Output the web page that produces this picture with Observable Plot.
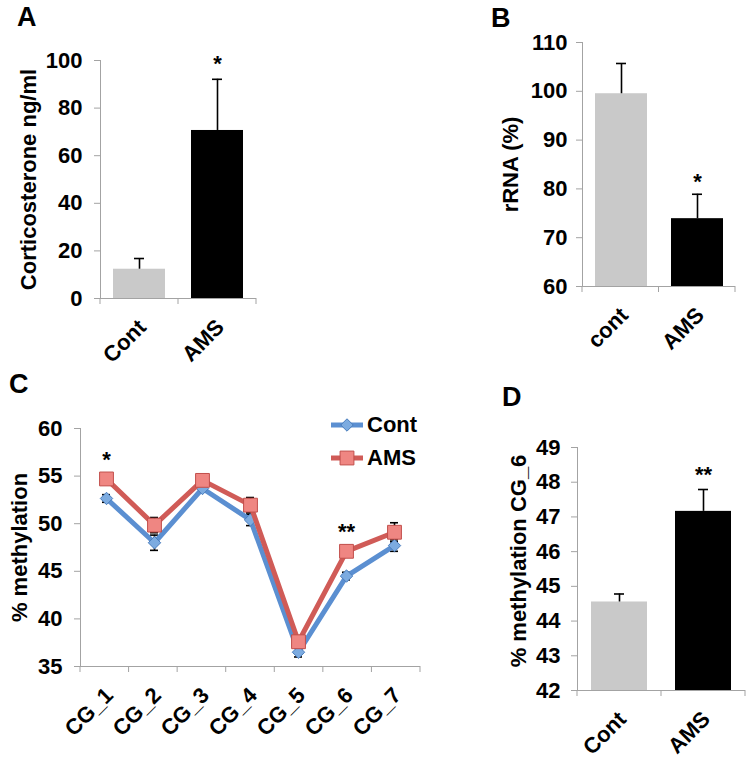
<!DOCTYPE html>
<html><head><meta charset="utf-8">
<script src="https://cdn.jsdelivr.net/npm/d3@7"></script>
<script src="https://cdn.jsdelivr.net/npm/@observablehq/plot@0.6"></script>
<style>
body{margin:0;background:#fff;font-family:'Liberation Sans',Arial,Helvetica,sans-serif;}
#fig{position:relative;width:753px;height:760px;overflow:hidden;background:#fff;}
.panel{position:absolute;}
.plabel{position:absolute;font-weight:bold;font-size:27px;line-height:1;}
.legend{position:absolute;display:flex;align-items:center;height:24px;font-weight:bold;font-size:22px;line-height:24px;}
.legend svg{margin-right:3px;}
</style></head><body>
<div id="fig">
  <div class="panel" id="pA" style="left:0;top:0"></div>
  <div class="panel" id="pB" style="left:420px;top:0"></div>
  <div class="panel" id="pC" style="left:0;top:380px"></div>
  <div class="panel" id="pD" style="left:420px;top:380px"></div>
  <div class="plabel" style="left:17px;top:4px">A</div>
  <div class="plabel" style="left:491px;top:5px">B</div>
  <div class="plabel" style="left:9px;top:371px">C</div>
  <div class="plabel" style="left:502px;top:384px">D</div>
  <div id="legend"></div>
</div>
<script>
// ---------- data ----------
const groupsA = ["Cont", "AMS"];
const corticoMean = [12.3, 70.6];
const corticoErr = [4.5, 21.5];
const sigA = ["", "*"];
const ticksA = [0, 20, 40, 60, 80, 100];

const groupsB = ["cont", "AMS"];
const rrnaMean = [99.5, 73.9];
const rrnaErr = [6.2, 5.0];
const sigB = ["", "*"];
const ticksB = [60, 70, 80, 90, 100, 110];

const cgSites = ["CG_1", "CG_2", "CG_3", "CG_4", "CG_5", "CG_6", "CG_7"];
const contMeth = [52.65, 48.0, 53.7, 50.4, 36.5, 44.5, 47.7];
const amsMeth = [54.7, 49.85, 54.55, 51.95, 37.6, 47.1, 49.1];
const contMethErr = [0.4, 0.8, 0.3, 0.6, 0.5, 0.4, 0.6];
const amsMethErr = [0.5, 0.8, 0.4, 0.8, 0.5, 0.6, 1.0];
const sigC = ["*", "", "", "", "", "**", ""];
const ticksC = [35, 40, 45, 50, 55, 60];

const groupsD = ["Cont", "AMS"];
const cg6Mean = [44.55, 47.16];
const cg6Err = [0.23, 0.63];
const sigD = ["", "**"];
const ticksD = [42, 43, 44, 45, 46, 47, 48, 49];

const barColors = ["#c9c9c9", "#000000"];
const seriesNames = ["Cont", "AMS"];
const seriesLine = ["#5b8fd1", "#d05b57"];
const seriesFill = ["#7cabe0", "#ef8682"];
const seriesEdge = ["#4a7dbd", "#c24f4b"];
const seriesSymbol = ["diamond2", "square"];
const seriesR = [5.6, 7.8];

// ---------- helpers ----------
const axisGray = "#a3a3a3";
const FS = 22;
const baseStyle = {fontFamily: "'Liberation Sans', Arial, Helvetica, sans-serif", fontSize: "22px", fontWeight: "bold", color: "black", background: "transparent", overflow: "visible"};

function boundaryTicks(n, len, color) {
  return (index, scales, values, dims) => {
    const {width, height, marginLeft, marginRight, marginBottom} = dims;
    const step = (width - marginLeft - marginRight) / n;
    const g = d3.create("svg:g").attr("stroke", color).attr("stroke-width", 1);
    for (let k = 0; k <= n; ++k) {
      const x = marginLeft + k * step;
      g.append("line").attr("x1", x).attr("x2", x)
        .attr("y1", height - marginBottom).attr("y2", height - marginBottom + len);
    }
    return g.node();
  };
}

function yTitle(title, dx, dy) {
  return Plot.text([title], {frameAnchor: "left", textAnchor: "middle", rotate: -90, dx, dy, fontSize: FS});
}

function xLabels() {
  return Plot.axisX({tickSize: 0, tickRotate: -45, tickPadding: 16, dx: 3, dy: 9, fill: "black", label: null, fontSize: FS});
}

function barPanel(o) {
  const rows = o.cats.map((c, i) => ({cat: c, mean: o.means[i], err: o.errs[i], sig: o.sig[i], color: barColors[i]}));
  return Plot.plot({
    width: o.width, height: o.height,
    marginLeft: o.ml, marginRight: o.mr, marginTop: o.mt, marginBottom: o.mb,
    style: baseStyle,
    x: {domain: o.cats, padding: 0},
    y: {domain: o.domain},
    color: {type: "identity"},
    marks: [
      Plot.frame({anchor: "left", stroke: axisGray}),
      Plot.ruleY([o.domain[0]], {stroke: axisGray}),
      boundaryTicks(o.cats.length, 6, axisGray),
      Plot.barY(rows, {x: "cat", y1: () => o.domain[0], y2: "mean", fill: "color", insetLeft: o.inset, insetRight: o.inset}),
      Plot.ruleX(rows, {x: "cat", y1: "mean", y2: d => d.mean + d.err, stroke: "black", strokeWidth: 1.6}),
      Plot.tickY(rows, {x: "cat", y: d => d.mean + d.err, stroke: "black", strokeWidth: 1.6, insetLeft: o.capInset, insetRight: o.capInset}),
      Plot.text(rows, {x: "cat", y: d => d.mean + d.err, text: "sig", dy: o.starDy, fontSize: FS}),
      Plot.axisY({ticks: o.ticks, tickFormat: d => String(d), tickSize: 6, tickPadding: o.tp, stroke: axisGray, fill: "black", label: null, fontSize: FS}),
      xLabels(),
      yTitle(o.title, o.titleDx, o.titleDy)
    ]
  });
}

// ---------- panel A ----------
document.getElementById("pA").append(barPanel({
  cats: groupsA, means: corticoMean, errs: corticoErr, sig: sigA, domain: [0, 100], ticks: ticksA,
  title: "Corticosterone ng/ml", titleDx: -72, titleDy: 0,
  width: 270, height: 380, ml: 100, mr: 14, mt: 60, mb: 82,
  inset: 13, capInset: 34, starDy: -15, tp: 12
}));

// ---------- panel B ----------
document.getElementById("pB").append(barPanel({
  cats: groupsB, means: rrnaMean, errs: rrnaErr, sig: sigB, domain: [60, 110], ticks: ticksB,
  title: "rRNA (%)", titleDx: -72, titleDy: 0,
  width: 333, height: 380, ml: 162, mr: 18, mt: 42, mb: 94,
  inset: 12, capInset: 33, starDy: -12, tp: 9
}));

// ---------- panel D ----------
document.getElementById("pD").append(barPanel({
  cats: groupsD, means: cg6Mean, errs: cg6Err, sig: sigD, domain: [42, 49], ticks: ticksD,
  title: "% methylation CG_6", titleDx: -59, titleDy: -8,
  width: 333, height: 380, ml: 157, mr: 8, mt: 67, mb: 70,
  inset: 14, capInset: 37, starDy: -15, tp: 11
}));

// ---------- panel C ----------
const methRows = [];
[contMeth, amsMeth].forEach((vals, s) => {
  const errs = s === 0 ? contMethErr : amsMethErr;
  vals.forEach((v, i) => methRows.push({site: cgSites[i], series: seriesNames[s], s, value: v, err: errs[i]}));
});
const sigRows = cgSites.map((c, i) => ({site: c, sig: sigC[i], top: amsMeth[i] + amsMethErr[i]}));
const yDomainC = [35, 60];
const seriesMarks = [];
[0, 1].forEach(s => {
  const rows = methRows.filter(d => d.s === s);
  seriesMarks.push(
    Plot.ruleX(rows, {x: "site", y1: d => d.value - d.err, y2: d => d.value + d.err, stroke: "black", strokeWidth: 1.6}),
    Plot.tickY(rows, {x: "site", y: d => d.value + d.err, stroke: "black", strokeWidth: 1.6, insetLeft: 20, insetRight: 20}),
    Plot.tickY(rows, {x: "site", y: d => d.value - d.err, stroke: "black", strokeWidth: 1.6, insetLeft: 20, insetRight: 20})
  );
});
[0, 1].forEach(s => {
  const rows = methRows.filter(d => d.s === s);
  seriesMarks.push(
    Plot.line(rows, {x: "site", y: "value", stroke: seriesLine[s], strokeWidth: 5, strokeLinejoin: "miter"}),
    Plot.dot(rows, {x: "site", y: "value", symbol: seriesSymbol[s], r: seriesR[s], fill: seriesFill[s], stroke: seriesEdge[s], strokeWidth: 1})
  );
});
document.getElementById("pC").append(Plot.plot({
  width: 425, height: 380, marginLeft: 80, marginRight: 5, marginTop: 48, marginBottom: 94,
  style: baseStyle,
  x: {domain: cgSites, padding: 0},
  y: {domain: yDomainC},
  marks: [
    Plot.frame({anchor: "left", stroke: axisGray}),
    Plot.ruleY([yDomainC[0]], {stroke: axisGray}),
    boundaryTicks(cgSites.length, 6, axisGray),
    Plot.axisY({ticks: ticksC, tickFormat: d => String(d), tickSize: 6, tickPadding: 12, stroke: axisGray, fill: "black", label: null, fontSize: FS}),
    xLabels(),
    ...seriesMarks,
    Plot.text(sigRows, {x: "site", y: "top", text: "sig", dy: -14, fontSize: FS}),
    yTitle("% methylation", -61, 0)
  ]
}));

// ---------- legend for C ----------
const legend = d3.select("#legend");
seriesNames.forEach((name, s) => {
  const item = legend.append("div").attr("class", "legend")
    .style("left", "330px").style("top", (413 + s * 33) + "px");
  const svg = item.append("svg").attr("width", 34).attr("height", 24);
  svg.append("line").attr("x1", 1).attr("x2", 33).attr("y1", 12).attr("y2", 12)
    .attr("stroke", seriesLine[s]).attr("stroke-width", 5);
  const sym = d3.symbol(s === 0 ? d3.symbolDiamond2 : d3.symbolSquare, Math.PI * seriesR[s] * seriesR[s]);
  svg.append("path").attr("d", sym()).attr("transform", "translate(17,12)")
    .attr("fill", seriesFill[s]).attr("stroke", seriesEdge[s]);
  item.append("span").text(name);
});
</script>
</body></html>
